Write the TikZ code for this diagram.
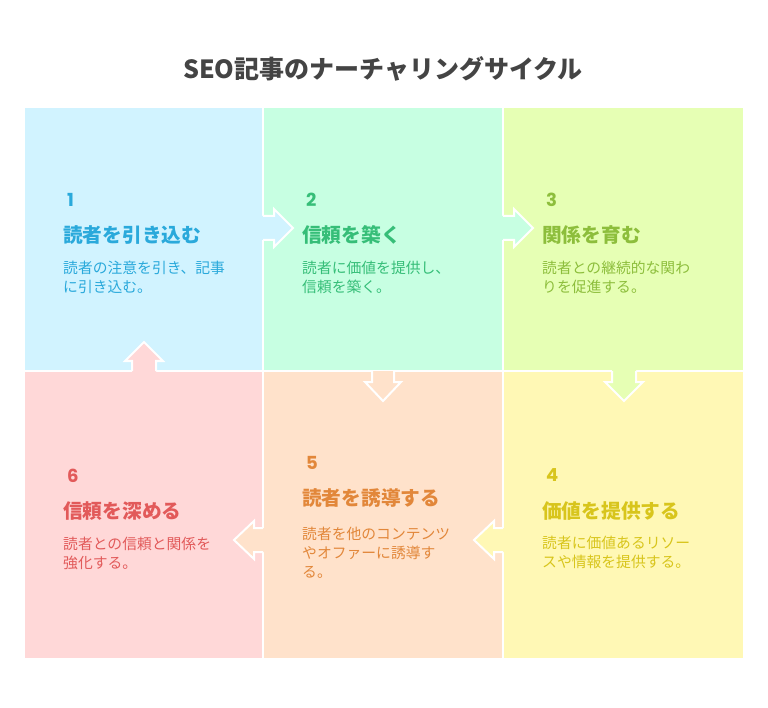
\documentclass[tikz,border=0pt]{standalone}
\usepackage{fontspec}
\setmainfont{Noto Sans CJK JP}
\newfontfamily\numfont{Poppins}
\definecolor{bgA}{HTML}{D1F3FF}\definecolor{txA}{HTML}{2AA9DB}
\definecolor{bgB}{HTML}{C7FFE2}\definecolor{txB}{HTML}{36BE78}
\definecolor{bgC}{HTML}{E6FFB4}\definecolor{txC}{HTML}{8DBE3C}
\definecolor{bgD}{HTML}{FFF8B5}\definecolor{txD}{HTML}{D8C51C}
\definecolor{bgE}{HTML}{FFE2CB}\definecolor{txE}{HTML}{E2873A}
\definecolor{bgF}{HTML}{FFD8D8}\definecolor{txF}{HTML}{E25A5A}
\definecolor{ttl}{HTML}{444444}
\tikzset{
  cell/.style={inner sep=0, outer sep=0, anchor=north west, draw=none},
  numlbl/.style={inner sep=0, anchor=west, font=\numfont\bfseries\fontsize{18}{18}\selectfont},
  headlbl/.style={inner sep=0, anchor=west, font=\bfseries\fontsize{19.7}{22}\selectfont},
  desclbl/.style={inner sep=0, anchor=west, align=left, font=\fontsize{14.8}{19}\selectfont},
  gapline/.style={white, line width=2pt},
  arrline/.style={white, line width=2pt, line join=miter},
}
\begin{document}
\begin{tikzpicture}[x=1pt,y=-1pt]
\useasboundingbox (0,0) rectangle (768,708);
\fill[white] (0,0) rectangle (768,708);
% title
\node[inner sep=0, font=\bfseries\fontsize{25}{27}\selectfont, text=ttl] (title) at (383,69) {SEO記事のナーチャリングサイクル};
% cells
\node[cell, fill=bgA, minimum width=238pt, minimum height=263pt] (c1) at (25,108) {};
\node[cell, fill=bgB, minimum width=240pt, minimum height=263pt] (c2) at (263,108) {};
\node[cell, fill=bgC, minimum width=240pt, minimum height=263pt] (c3) at (503,108) {};
\node[cell, fill=bgF, minimum width=238pt, minimum height=287pt] (c6) at (25,371) {};
\node[cell, fill=bgE, minimum width=240pt, minimum height=287pt] (c5) at (263,371) {};
\node[cell, fill=bgD, minimum width=240pt, minimum height=287pt] (c4) at (503,371) {};
% gap lines
\draw[gapline] (c1.north east) -- (c6.south east);
\draw[gapline] (c2.north east) -- (c5.south east);
\draw[gapline] (c1.south west) -- (c3.south east);
% arrow 2 -> 5 (closed outline inside cell 5)
\filldraw[arrline, fill=bgE] (372,371) -- (372,382) -- (365,382) -- (383,401) -- (401,382) -- (394,382) -- (394,371);
% arrow 1 -> 2
\fill[bgA] (262,216) -- (274,216) -- (274,209) -- (293,228) -- (274,247) -- (274,240) -- (262,240) -- cycle;
\draw[arrline] (263,216) -- (274,216) -- (274,209) -- (293,228) -- (274,247) -- (274,240) -- (263,240);
% arrow 2 -> 3
\fill[bgB] (502,216) -- (514,216) -- (514,209) -- (533,228) -- (514,247) -- (514,240) -- (502,240) -- cycle;
\draw[arrline] (503,216) -- (514,216) -- (514,209) -- (533,228) -- (514,247) -- (514,240) -- (503,240);
% arrow 3 -> 4
\fill[bgC] (612,370) -- (612,382) -- (605,382) -- (624,401) -- (643,382) -- (636,382) -- (636,370) -- cycle;
\draw[arrline] (612,371) -- (612,382) -- (605,382) -- (624,401) -- (643,382) -- (636,382) -- (636,371);
% arrow 4 -> 5
\fill[bgD] (504,528) -- (494,528) -- (494,521) -- (474,540) -- (494,559) -- (494,552) -- (504,552) -- cycle;
\draw[arrline] (503,528) -- (494,528) -- (494,521) -- (474,540) -- (494,559) -- (494,552) -- (503,552);
% arrow 5 -> 6
\fill[bgE] (264,528) -- (254,528) -- (254,521) -- (234,540) -- (254,559) -- (254,552) -- (264,552) -- cycle;
\draw[arrline] (263,528) -- (254,528) -- (254,521) -- (234,540) -- (254,559) -- (254,552) -- (263,552);
% arrow 6 -> 1
\fill[bgF] (132,372) -- (132,361) -- (125,361) -- (144,342) -- (163,361) -- (156,361) -- (156,372) -- cycle;
\draw[arrline] (132,371) -- (132,361) -- (125,361) -- (144,342) -- (163,361) -- (156,361) -- (156,371);
% texts cell 1
\node[numlbl, text=txA] (n1) at (67,200) {1};
\node[headlbl, text=txA] (h1) at (63,235) {読者を引き込む};
\node[desclbl, text=txA] (d1) at (63,277.5) {読者の注意を引き、記事\\に引き込む。};
% cell 2
\node[numlbl, text=txB] (n2) at (306,200) {2};
\node[headlbl, text=txB] (h2) at (302,235) {信頼を築く};
\node[desclbl, text=txB] (d2) at (302,277.5) {読者に価値を提供し、\\信頼を築く。};
% cell 3
\node[numlbl, text=txC] (n3) at (546,200) {3};
\node[headlbl, text=txC] (h3) at (542,235) {関係を育む};
\node[desclbl, text=txC] (d3) at (542,277.5) {読者との継続的な関わ\\りを促進する。};
% cell 4
\node[numlbl, text=txD] (n4) at (546,475) {4};
\node[headlbl, text=txD] (h4) at (542,511) {価値を提供する};
\node[desclbl, text=txD] (d4) at (542,552) {読者に価値あるリソー\\スや情報を提供する。};
% cell 5
\node[numlbl, text=txE] (n5) at (306,463) {5};
\node[headlbl, text=txE] (h5) at (302,498) {読者を誘導する};
\node[desclbl, text=txE] (d5) at (302,553) {読者を他のコンテンツ\\やオファーに誘導す\\る。};
% cell 6
\node[numlbl, text=txF] (n6) at (67,476) {6};
\node[headlbl, text=txF] (h6) at (63,511) {信頼を深める};
\node[desclbl, text=txF] (d6) at (63,553) {読者との信頼と関係を\\強化する。};
\end{tikzpicture}
\end{document}
